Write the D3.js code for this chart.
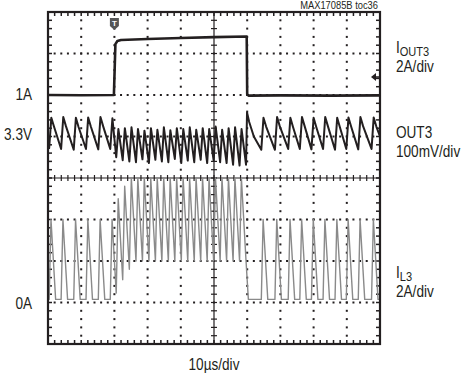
<!DOCTYPE html>
<html><head><meta charset="utf-8">
<script src="https://cdn.jsdelivr.net/npm/d3@7"></script>
<style>
body{margin:0;background:#fff;}
svg text{font-family:"Liberation Sans Narrow","Arial Narrow","Liberation Sans",Arial,sans-serif;fill:#231f20;}
</style></head><body>
<svg id="c" width="466" height="374"></svg>
<script>
// time axis: 10 µs/div, 10 divisions
const timeDomain = [0, 100];
const divDomain = [-4, 4];
const xDivs = 10, yDivs = 8, minorPerDiv = 5;

// IOUT3 load current step (A)
const iout3 = [[0,1.00],[10,0.99],[19.85,1.00],[20.3,3.45],[20.9,3.60],[22,3.65],[30,3.70],[40,3.75],[50,3.79],[59.85,3.82],[60.0,1.04],[60.4,0.97],[70,0.98],[85,0.97],[100,0.98]];

// OUT3 output voltage (V)
const out3 = [[0,3.290],[0.35,3.272],[1.0,3.345],[1.8,3.324],[3.95,3.270],[4.6,3.347],[5.4,3.325],[7.75,3.268],[8.4,3.345],[9.2,3.323],[11.45,3.270],[12.1,3.346],[12.9,3.324],[15.15,3.269],[15.8,3.347],[16.6,3.325],[18.75,3.270],[19.4,3.344],
[20.55,3.250],[21.2,3.318],[22.5,3.243],[23.15,3.320],[24.5,3.240],[25.15,3.322],
[26.5,3.238],[27.1,3.318],[28.45,3.245],[29.05,3.314],[30.4,3.236],[31.0,3.320],[32.35,3.244],[32.95,3.316],[34.3,3.240],[34.9,3.322],[36.25,3.238],[36.85,3.315],[38.2,3.246],[38.8,3.320],[40.15,3.236],[40.75,3.318],[42.1,3.242],[42.7,3.322],[44.05,3.238],[44.65,3.316],[46.0,3.244],[46.6,3.320],[47.95,3.236],[48.55,3.318],[49.9,3.242],[50.5,3.324],[51.85,3.238],[52.45,3.316],[53.8,3.236],[54.4,3.320],[55.75,3.232],[56.35,3.322],[57.7,3.230],[58.3,3.318],[59.65,3.232],
[59.95,3.358],[60.6,3.335],[62.0,3.300],[64.25,3.268],[64.9,3.345],[65.7,3.324],[68.35,3.268],[69.0,3.347],[69.8,3.325],[72.35,3.270],[73.0,3.345],[73.8,3.323],[75.85,3.270],[76.5,3.347],[77.3,3.325],[79.35,3.269],[80.0,3.345],[80.8,3.323],[82.85,3.270],[83.5,3.347],[84.3,3.325],[86.45,3.268],[87.1,3.345],[87.9,3.323],[89.85,3.270],[90.5,3.346],[91.3,3.324],[93.45,3.269],[94.1,3.347],[94.9,3.325],[97.45,3.270],[98.1,3.346],[98.9,3.324],[100,3.300]];

// IL3 inductor current (A)
const il3 = [[0,0.15],[0.35,0.15],[0.9,4],[2.3,0.15],[3.95,0.15],[4.5,4],[5.9,0.15],[7.75,0.15],[8.3,4],[9.7,0.15],[11.45,0.15],[12.0,4],[13.4,0.15],[15.15,0.15],[15.7,4],[17.1,0.15],[18.75,0.15],[19.3,4],
[20.55,0.45],[21.15,5.0],[22.5,1.1],[23.1,5.6],[24.5,1.6],[25.1,6.0],
[26.5,2.0],[27.05,6.0],[28.45,2.0],[29.0,6.0],[30.4,2.0],[30.95,6.0],[32.35,2.0],[32.9,6.0],[34.3,2.0],[34.85,6.0],[36.25,2.0],[36.8,6.0],[38.2,2.0],[38.75,6.0],[40.15,2.0],[40.7,6.0],[42.1,2.0],[42.65,6.0],[44.05,2.0],[44.6,6.0],[46.0,2.0],[46.55,6.0],[47.95,2.0],[48.5,6.0],[49.9,2.0],[50.45,6.0],[51.85,2.0],[52.4,6.0],[53.8,2.0],[54.35,6.0],[55.75,2.0],[56.3,6.0],[57.7,2.0],[58.25,6.0],[59.65,2.0],
[60.35,0.15],[64.25,0.15],[64.8,4],[66.2,0.15],[68.35,0.15],[68.9,4],[70.3,0.15],[72.35,0.15],[72.9,4],[74.3,0.15],[75.85,0.15],[76.4,4],[77.8,0.15],[79.35,0.15],[79.9,4],[81.3,0.15],[82.85,0.15],[83.4,4],[84.8,0.15],[86.45,0.15],[87.0,4],[88.4,0.15],[89.85,0.15],[90.4,4],[91.8,0.15],[93.45,0.15],[94.0,4],[95.4,0.15],[97.45,0.15],[98.0,4],[99.4,0.15],[100,0.15]];

// labels
const levelLabels = ["1A", "3.3V", "0A"];
const levelValues = [1, 3.3, 0];
const channelNames = [["I","OUT3"], ["OUT3",""], ["I","L3"]];
const channelScales = ["2A/div", "100mV/div", "2A/div"];
const timeScaleLabel = "10µs/div";
const figureId = "MAX17085B toc36";

const svg = d3.select("#c");
const L = 48, R = 380, T = 12, B = 344;
const x = d3.scaleLinear().domain(timeDomain).range([L, R]);
const gy = d3.scaleLinear().domain(divDomain).range([B, T]);
// channel scales (offset in divisions)
const yI = d3.scaleLinear().domain([0, 2]).range([gy(1.5), gy(2.5)]);
const yV = d3.scaleLinear().domain([3.3, 3.4]).range([gy(1), gy(2)]);
const yL = d3.scaleLinear().domain([0, 2]).range([gy(-3), gy(-2)]);
const ink = "#231f20";
const SX = 0.85; // condensed text

function ctext(px, py, size, anchor) {
  return svg.append("g").attr("transform", `translate(${px},${py}) scale(${SX},1)`)
    .append("text").attr("text-anchor", anchor).style("font-size", size + "px");
}

const g = svg.append("g");
const xMinor = d3.range(0, xDivs*minorPerDiv + 1).map(i => timeDomain[0] + i*(timeDomain[1]-timeDomain[0])/(xDivs*minorPerDiv));
const yMinor = d3.range(0, yDivs*minorPerDiv + 1).map(i => divDomain[0] + i*(divDomain[1]-divDomain[0])/(yDivs*minorPerDiv));
const xMajor = d3.range(1, xDivs).map(i => i*10);
const yMajor = d3.range(-3, 4);

// dotted grid
xMajor.filter(v => v !== 50).forEach(v => {
  yMinor.forEach(d => g.append("rect").attr("x", x(v)-1).attr("y", gy(d)-1).attr("width", 2).attr("height", 2).attr("fill", ink));
});
yMajor.filter(v => v !== 0).forEach(d => {
  xMinor.forEach(v => g.append("rect").attr("x", x(v)-1).attr("y", gy(d)-1).attr("width", 2).attr("height", 2).attr("fill", ink));
});
// center crosshair
g.append("line").attr("x1", L).attr("x2", R).attr("y1", gy(0)).attr("y2", gy(0)).attr("stroke", ink).attr("stroke-width", 1.2);
g.append("line").attr("x1", x(50)).attr("x2", x(50)).attr("y1", T).attr("y2", B).attr("stroke", ink).attr("stroke-width", 1.2);
xMinor.forEach(v => g.append("line").attr("x1", x(v)).attr("x2", x(v)).attr("y1", gy(0)-3).attr("y2", gy(0)+3).attr("stroke", ink).attr("stroke-width", 1.2));
yMinor.forEach(d => g.append("line").attr("x1", x(50)-3).attr("x2", x(50)+3).attr("y1", gy(d)).attr("y2", gy(d)).attr("stroke", ink).attr("stroke-width", 1.2));
// frame inner ticks
xMinor.forEach(v => {
  g.append("line").attr("x1", x(v)).attr("x2", x(v)).attr("y1", T).attr("y2", T+4).attr("stroke", ink).attr("stroke-width", 1.5);
  g.append("line").attr("x1", x(v)).attr("x2", x(v)).attr("y1", B-4).attr("y2", B).attr("stroke", ink).attr("stroke-width", 1.5);
});
yMinor.forEach(d => {
  g.append("line").attr("x1", L).attr("x2", L+4).attr("y1", gy(d)).attr("y2", gy(d)).attr("stroke", ink).attr("stroke-width", 1.5);
  g.append("line").attr("x1", R-4).attr("x2", R).attr("y1", gy(d)).attr("y2", gy(d)).attr("stroke", ink).attr("stroke-width", 1.5);
});

// traces
svg.append("clipPath").attr("id", "clp").append("rect").attr("x", L).attr("y", T).attr("width", R-L).attr("height", B-T);
const tr = svg.append("g").attr("clip-path", "url(#clp)");
tr.append("path").datum(il3).attr("fill", "none").attr("stroke", "#8a8a8a").attr("stroke-width", 1.4).attr("stroke-linejoin", "round")
  .attr("d", d3.line().x(d => x(d[0])).y(d => yL(d[1])));
tr.append("path").datum(out3).attr("fill", "none").attr("stroke", ink).attr("stroke-width", 2).attr("stroke-linejoin", "round")
  .attr("d", d3.line().x(d => x(d[0])).y(d => yV(d[1])));
tr.append("path").datum(iout3).attr("fill", "none").attr("stroke", ink).attr("stroke-width", 2.6).attr("stroke-linejoin", "round")
  .attr("d", d3.line().x(d => x(d[0])).y(d => yI(d[1])));

// frame
svg.append("rect").attr("x", L).attr("y", T).attr("width", R-L).attr("height", B-T).attr("fill", "none").attr("stroke", ink).attr("stroke-width", 2.2);

// trigger marker
const tx = x(20);
svg.append("path").attr("d", `M${tx-4.5},18 h9 v8 l-4.5,4 l-4.5,-4 z`).attr("fill", "#555");
svg.append("text").attr("x", tx).attr("y", 26).attr("text-anchor", "middle").style("font-size", "8px").style("font-weight", "bold").style("fill", "#fff").text("T");
// ground marker for channel 1
svg.append("path").attr("d", `M371,77 l5,-4 v8 z`).attr("fill", ink);
svg.append("line").attr("x1", 375).attr("x2", 379).attr("y1", 77).attr("y2", 77).attr("stroke", ink).attr("stroke-width", 1.5);

// left level labels
const levelY = [yI(levelValues[0]), yV(levelValues[1]), yL(levelValues[2])];
const levelDy = [5, 3, 6];
levelLabels.forEach((t, i) => ctext(32, levelY[i] + levelDy[i], 16, "end").text(t));

// right channel labels
const rightBase = [53, 138, 278];
channelNames.forEach((nm, i) => {
  const t = ctext(396, rightBase[i], 16, "start");
  t.append("tspan").text(nm[0]);
  if (nm[1]) t.append("tspan").attr("dy", 3).style("font-size", "13px").text(nm[1]);
  ctext(396, rightBase[i] + 19, 16, "start").text(channelScales[i]);
});
ctext(x(50), 370, 16, "middle").text(timeScaleLabel);
ctext(378, 9, 11, "end").text(figureId);
</script></body></html>
